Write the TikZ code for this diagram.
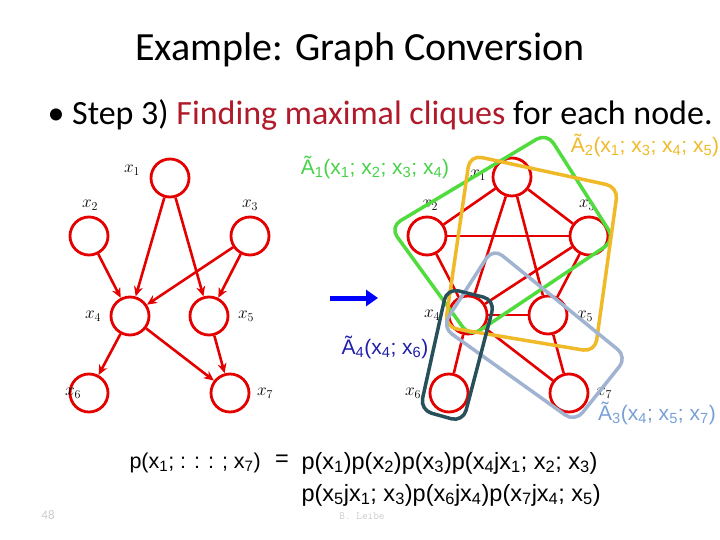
\documentclass[tikz,border=0pt]{standalone}
\usepackage{fontspec}
\usetikzlibrary{arrows.meta}
\setmainfont{Carlito}
\newfontfamily\hv{Liberation Sans}
\newcommand\sbx[1]{\textsubscript{#1}}
\begin{document}
\begin{tikzpicture}[x=1pt,y=-1pt,
  rv/.style={circle,draw=red!90!black,line width=2.8pt,minimum size=38pt,inner sep=0pt,fill=white},
  ed/.style={red!90!black,line width=2.6pt},
  arr/.style={ed,-{Stealth[length=10pt,width=9pt]}},
  lab/.style={font=\fontsize{18}{18}\selectfont},
  clq/.style={line width=3.5pt,rounded corners=12pt},
  ctext/.style={font=\hv\fontsize{21}{21}\selectfont}]
\useasboundingbox (0,0) rectangle (720,540);
\node[font=\fontsize{40}{40}\selectfont] (title) at (360,50) {Example: Graph Conversion};
\node[anchor=west,font=\fontsize{34}{34}\selectfont] (bul) at (44,115) {\textbullet\ Step 3) \textcolor[HTML]{B01A2A}{Finding maximal cliques} for each node.};
% left graph
\node[rv] (a1) at (170,178) {};
\node[rv] (a2) at (89,236) {};
\node[rv] (a3) at (250,236) {};
\node[rv] (a4) at (130,316) {};
\node[rv] (a5) at (209,316) {};
\node[rv] (a6) at (89,393) {};
\node[rv] (a7) at (230,393) {};
\node[lab] (la1) at (132,170) {$x_1$};
\node[lab] (la2) at (90,205) {$x_2$};
\node[lab] (la3) at (250,205) {$x_3$};
\node[lab] (la4) at (93,316) {$x_4$};
\node[lab] (la5) at (246,316) {$x_5$};
\node[lab] (la6) at (73,393) {$x_6$};
\node[lab] (la7) at (265,393) {$x_7$};
\draw[arr] (a1) -- (a4); \draw[arr] (a1) -- (a5);
\draw[arr] (a2) -- (a4); \draw[arr] (a3) -- (a4);
\draw[arr] (a3) -- (a5); \draw[arr] (a4) -- (a6);
\draw[arr] (a4) -- (a7); \draw[arr] (a5) -- (a7);
% arrow
\coordinate (bs) at (330,298); \coordinate (be) at (378,298);
\draw[blue,line width=5pt,-{Triangle[length=12pt,width=16pt]}] (bs) -- (be);
% right graph
\node[rv] (b1) at (512,177) {};
\node[rv] (b2) at (427,236) {};
\node[rv] (b3) at (589,236) {};
\node[rv] (b4) at (468,315) {};
\node[rv] (b5) at (548,315) {};
\node[rv] (b6) at (449,393) {};
\node[rv] (b7) at (569,393) {};
\node[lab] (lb1) at (478,175) {$x_1$};
\node[lab] (lb2) at (430,205) {$x_2$};
\node[lab] (lb3) at (587,205) {$x_3$};
\node[lab] (lb4) at (432,315) {$x_4$};
\node[lab] (lb5) at (585,316) {$x_5$};
\node[lab] (lb6) at (413,393) {$x_6$};
\node[lab] (lb7) at (604,393) {$x_7$};
\foreach \u/\v in {b1/b2,b1/b3,b1/b4,b1/b5,b2/b3,b2/b4,b3/b4,b3/b5,b4/b5,b4/b6,b4/b7,b5/b7}
  \draw[ed] (\u) -- (\v);
% cliques
\draw[clq,color={rgb,255:red,80;green,220;blue,60}] (547,133) -- (615,240) -- (470,337) -- (390,227) -- cycle;
\draw[clq,color={rgb,255:red,240;green,185;blue,40}] (470,155) -- (618,187) -- (595,352) -- (445,327) -- cycle;
\draw[clq,color={rgb,255:red,160;green,180;blue,210}] (493,248) -- (627,357) -- (575,422) -- (442,327) -- cycle;
\draw[clq,color={rgb,255:red,40;green,80;blue,90}] (447,288) -- (495,300) -- (463,422) -- (420,410) -- cycle;
\node[ctext,text={rgb,255:red,70;green,210;blue,70}] (c1) at (375,167) {Ã\sbx{1}(x\sbx{1}; x\sbx{2}; x\sbx{3}; x\sbx{4})};
\node[ctext,text={rgb,255:red,240;green,185;blue,40}] (c2) at (645,145) {Ã\sbx{2}(x\sbx{1}; x\sbx{3}; x\sbx{4}; x\sbx{5})};
\node[ctext,text={rgb,255:red,120;green,160;blue,215}] (c3) at (657,413) {Ã\sbx{3}(x\sbx{4}; x\sbx{5}; x\sbx{7})};
\node[ctext,text={rgb,255:red,30;green,30;blue,170}] (c4) at (385,347) {Ã\sbx{4}(x\sbx{4}; x\sbx{6})};
% formula
\tikzset{fm/.style={anchor=west,font=\hv\fontsize{23.5}{23.5}\selectfont}}
\node[fm,font=\hv\fontsize{21.5}{21.5}\selectfont] (f1) at (126,463) {p(x\sbx{1}; : : : ; x\sbx{7})};
\node[fm,anchor=center] (eq) at (282,461) {=};
\node[fm] (f2) at (298,463) {p(x\sbx{1})p(x\sbx{2})p(x\sbx{3})p(x\sbx{4}jx\sbx{1}; x\sbx{2}; x\sbx{3})};
\node[fm] (f3) at (298,495) {p(x\sbx{5}jx\sbx{1}; x\sbx{3})p(x\sbx{6}jx\sbx{4})p(x\sbx{7}jx\sbx{4}; x\sbx{5})};
\node[text=gray!40,font=\fontsize{13}{13}\selectfont] (pg) at (48,515) {48};
\node[text=gray!40,font=\ttfamily\fontsize{11}{11}\selectfont] (au) at (362,516) {B. Leibe};
\end{tikzpicture}
\end{document}
